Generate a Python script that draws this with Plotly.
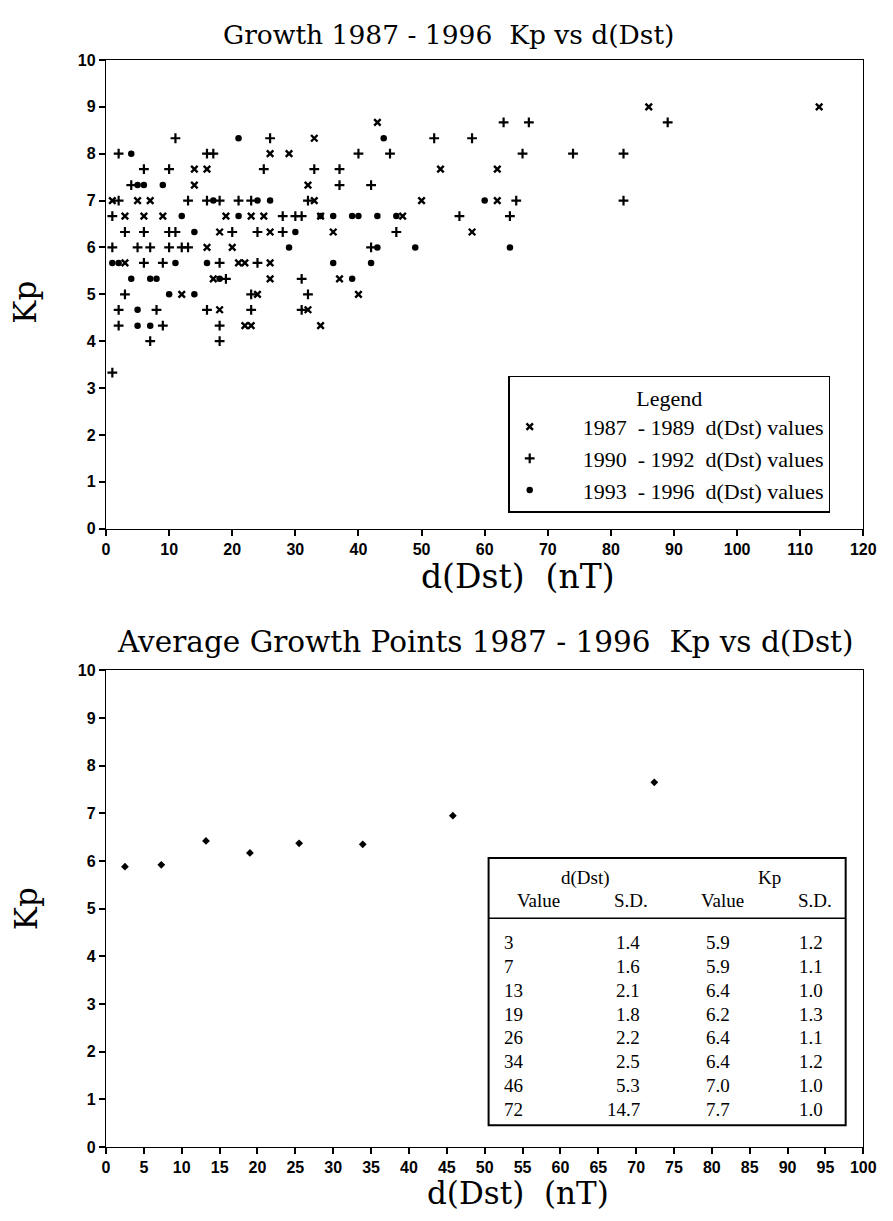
import plotly.graph_objects as go

# ---------------- data: top chart (growth points) ----------------
# 1987 - 1989 (x markers)
dst_8789 = [26, 29, 14, 16, 14, 1, 5, 7, 3, 6, 9, 19, 23, 25, 18, 26, 16, 20, 3, 21, 22, 26,
            17, 26, 12, 24, 18, 22, 23, 43, 33, 53, 32, 33, 50, 34, 47, 36, 58, 37, 40, 32,
            34, 86, 113, 62, 62]
kp_8789 = [8, 8, 7.67, 7.67, 7.33, 7, 7, 7, 6.67, 6.67, 6.67, 6.67, 6.67, 6.67, 6.33, 6.33, 6, 6,
           5.67, 5.67, 5.67, 5.67, 5.33, 5.33, 5, 5, 4.67, 4.33, 4.33, 8.67, 8.33, 7.67, 7.33, 7,
           7, 6.67, 6.67, 6.33, 6.33, 5.33, 5, 4.67, 4.33, 9, 9, 7.67, 7]

# 1990 - 1992 (+ markers)
dst_9092 = [11, 26, 2, 16, 17, 6, 10, 25, 4, 2, 13, 16, 18, 21, 23, 1, 28, 3, 6, 10, 11, 20, 24,
            28, 1, 5, 7, 10, 12, 13, 6, 9, 18, 24, 19, 3, 23, 2, 8, 16, 23, 2, 9, 18, 7, 18, 1,
            52, 58, 40, 45, 33, 37, 37, 42, 32, 30, 31, 56, 46, 42, 31, 32, 31, 63, 67, 89,
            66, 74, 82, 65, 82, 64]
kp_9092 = [8.33, 8.33, 8, 8, 8, 7.67, 7.67, 7.67, 7.33, 7, 7, 7, 7, 7, 7, 6.67, 6.67, 6.33, 6.33,
           6.33, 6.33, 6.33, 6.33, 6.33, 6, 6, 6, 6, 6, 6, 5.67, 5.67, 5.67, 5.67, 5.33, 5, 5,
           4.67, 4.67, 4.67, 4.67, 4.33, 4.33, 4.33, 4, 4, 3.33,
           8.33, 8.33, 8, 8, 7.67, 7.67, 7.33, 7.33, 7, 6.67, 6.67, 6.67, 6.33, 6, 5.33, 5,
           4.67, 8.67, 8.67, 8.67, 8, 8, 8, 7, 7, 6.67]

# 1993 - 1996 (filled circles)
dst_9396 = [21, 4, 5, 6, 9, 17, 24, 26, 12, 21, 14, 29, 1, 2, 11, 16, 4, 7, 8, 18, 10, 14, 5, 5,
            7, 44, 34, 36, 39, 40, 43, 46, 30, 43, 49, 36, 42, 39, 60, 64]
kp_9396 = [8.33, 8, 7.33, 7.33, 7.33, 7, 7, 7, 6.67, 6.67, 6.33, 6, 5.67, 5.67, 5.67, 5.67, 5.33,
           5.33, 5.33, 5.33, 5, 5, 4.67, 4.33, 4.33, 8.33, 6.67, 6.67, 6.67, 6.67, 6.67, 6.67,
           6.33, 6, 6, 5.67, 5.67, 5.33, 7, 6]

# ---------------- data: bottom chart (average growth points) ----------------
avg_dst = [2.5, 7.3, 13.2, 19.0, 25.5, 33.9, 45.8, 72.4]
avg_kp = [5.88, 5.92, 6.42, 6.17, 6.37, 6.35, 6.95, 7.65]

tbl_dst_val = ["3", "7", "13", "19", "26", "34", "46", "72"]
tbl_dst_sd = ["1.4", "1.6", "2.1", "1.8", "2.2", "2.5", "5.3", "14.7"]
tbl_kp_val = ["5.9", "5.9", "6.4", "6.2", "6.4", "6.4", "7.0", "7.7"]
tbl_kp_sd = ["1.2", "1.1", "1.0", "1.3", "1.1", "1.2", "1.0", "1.0"]

top_xticks = list(range(0, 121, 10))
bot_xticks = list(range(0, 101, 5))
y_ticks = list(range(0, 11))

W, H = 893, 1221
SERIF = "Liberation Serif, Times New Roman, serif"
WIDE = "DejaVu Serif, Liberation Serif, serif"
TICKF = dict(family="Liberation Sans Narrow, Arial Narrow, Liberation Sans, Arial", size=16,
             color="black", weight="bold")
NB = "\u00a0"


def px(x):
    return x / W


def py(y):
    return 1 - y / H


def leg_name(a, b):
    return NB * 6 + a + NB * 2 + "- " + b + NB * 2 + "d(Dst) values"


fig = go.Figure()
fig.add_trace(go.Scatter(
    x=dst_8789, y=kp_8789, mode="markers", name=leg_name("1987", "1989"),
    marker=dict(symbol="x-thin", size=6.5, color="black", line=dict(width=2.4, color="black")),
    xaxis="x", yaxis="y"))
fig.add_trace(go.Scatter(
    x=dst_9092, y=kp_9092, mode="markers", name=leg_name("1990", "1992"),
    marker=dict(symbol="cross-thin", size=7, color="black", line=dict(width=2.2, color="black")),
    xaxis="x", yaxis="y"))
fig.add_trace(go.Scatter(
    x=dst_9396, y=kp_9396, mode="markers", name=leg_name("1993", "1996"),
    marker=dict(symbol="circle", size=6.5, color="black"),
    xaxis="x", yaxis="y"))
fig.add_trace(go.Scatter(
    x=avg_dst, y=avg_kp, mode="markers", showlegend=False,
    marker=dict(symbol="diamond", size=6, color="black"),
    xaxis="x2", yaxis="y2"))

axis_common = dict(showline=True, linecolor="black", linewidth=1.3, mirror=True, showgrid=False,
                   zeroline=False, ticks="outside", ticklen=6, tickwidth=1.5, tickcolor="black",
                   tickfont=TICKF)

TOP_T, TOP_B = 52.7, 528
BOT_T, BOT_B = 671.7, 1155

x_dom = [px(104), px(876)]
fig.update_layout(
    width=W, height=H, margin=dict(l=0, r=0, t=0, b=0),
    paper_bgcolor="white", plot_bgcolor="white",
    xaxis=dict(domain=x_dom, range=[0, 120], tickvals=top_xticks, anchor="y", **axis_common),
    yaxis=dict(domain=[py(TOP_B), py(TOP_T)], range=[0, 10], tickvals=y_ticks, anchor="x", **axis_common),
    xaxis2=dict(domain=x_dom, range=[0, 100], tickvals=bot_xticks, anchor="y2", **axis_common),
    yaxis2=dict(domain=[py(BOT_B), py(BOT_T)], range=[0, 10], tickvals=y_ticks, anchor="x2", **axis_common),
    showlegend=True,
    legend=dict(x=px(514), y=py(373), xanchor="left", yanchor="top",
                bordercolor="black", borderwidth=1.5, bgcolor="white",
                font=dict(family=SERIF, size=22, color="black"),
                title=dict(text="Legend", side="top center", font=dict(family=SERIF, size=22)),
                itemwidth=30, tracegroupgap=0),
)

ann = []
ann.append(dict(text="Growth 1987 - 1996" + NB * 2 + "Kp vs d(Dst)", x=px(453), y=py(27),
                font=dict(family=WIDE, size=26.5, color="black")))
ann.append(dict(text="Average Growth Points 1987 - 1996" + NB * 2 + "Kp vs d(Dst)", x=px(490), y=py(643),
                font=dict(family=WIDE, size=29.5, color="black")))
ann.append(dict(text="d(Dst)" + NB * 2 + "(nT)", x=px(524), y=py(577),
                font=dict(family=WIDE, size=33, color="black")))
ann.append(dict(text="d(Dst)" + NB * 2 + "(nT)", x=px(524), y=py(1202),
                font=dict(family=WIDE, size=31, color="black")))
ann.append(dict(text="Kp", x=px(22), y=py((TOP_T + TOP_B) / 2 + 8), textangle=-90,
                font=dict(family=WIDE, size=31, color="black")))
ann.append(dict(text="Kp", x=px(22), y=py((BOT_T + BOT_B) / 2), textangle=-90,
                font=dict(family=WIDE, size=31, color="black")))

TF = dict(family=SERIF, size=19, color="black")
ann.append(dict(text="d(Dst)", x=px(593), y=py(882), font=TF))
ann.append(dict(text="Kp", x=px(780), y=py(882), font=TF))
for xx, t in [(545, "Value"), (639, "S.D."), (732, "Value"), (827, "S.D.")]:
    ann.append(dict(text=t, x=px(xx), y=py(905), font=TF))
for i in range(len(tbl_dst_val)):
    yy = py(948 + i * 24.1)
    ann.append(dict(text=tbl_dst_val[i], x=px(508), y=yy, xanchor="left", font=TF))
    ann.append(dict(text=tbl_dst_sd[i], x=px(650), y=yy, xanchor="right", font=TF))
    ann.append(dict(text=tbl_kp_val[i], x=px(728), y=yy, xanchor="center", font=TF))
    ann.append(dict(text=tbl_kp_sd[i], x=px(823), y=yy, xanchor="center", font=TF))

for a in ann:
    a.setdefault("xanchor", "center")
    a.setdefault("yanchor", "middle")
    a.update(xref="paper", yref="paper", showarrow=False)
fig.update_layout(annotations=ann)

fig.update_layout(shapes=[
    dict(type="rect", xref="paper", yref="paper", x0=px(494), x1=px(858), y0=py(1133), y1=py(862),
         line=dict(color="black", width=2)),
    dict(type="line", xref="paper", yref="paper", x0=px(494), x1=px(858), y0=py(923), y1=py(923),
         line=dict(color="black", width=1.5)),
])

fig.write_html("out.html", config={"displayModeBar": False},
               post_script="document.body.style.margin='0px';document.body.style.overflow='hidden';")
